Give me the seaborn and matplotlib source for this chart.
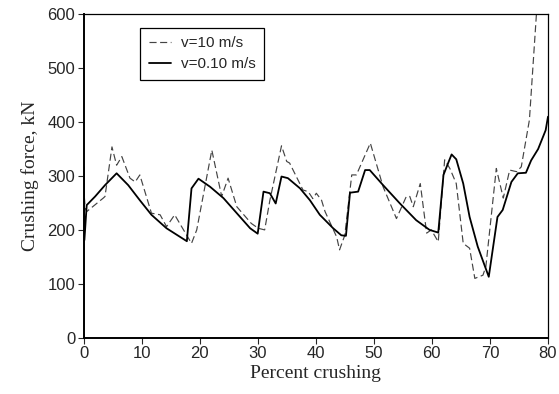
import matplotlib
matplotlib.use("Agg")
import matplotlib.pyplot as plt
import pandas as pd
import seaborn as sns

# v = 10 m/s (dashed)
pct_fast = [0.0, 0.3, 0.55, 3.4, 3.7, 4.9, 5.7, 6.6, 8.0, 8.9, 9.7, 11.7, 13.2, 14.3,
            15.7, 16.9, 18.6, 19.5, 22.1, 23.8, 24.9, 26.4, 28.9, 30.1, 31.2, 32.1,
            34.1, 35.0, 35.5, 37.8, 38.7, 39.5, 40.1, 41.0, 41.6, 43.6, 44.1, 45.0,
            46.2, 47.0, 49.4, 51.6, 53.9, 55.6, 56.2, 56.8, 58.0, 59.1, 59.9, 61.1,
            62.2, 63.1, 64.2, 65.4, 66.5, 67.4, 68.8, 69.3, 71.1, 72.3, 73.4, 74.6,
            75.4, 76.8, 78.0, 78.6]
force_fast = [280, 240, 234, 259, 262, 354, 320, 336, 296, 289, 302, 231, 228, 206,
              228, 206, 175, 200, 348, 262, 296, 243, 212, 203, 200, 255,
              356, 327, 324, 274, 271, 258, 268, 255, 234, 187, 163, 190,
              302, 302, 361, 280, 221, 262, 262, 243, 286, 194, 200, 178,
              330, 314, 286, 175, 166, 110, 116, 132, 314, 259, 311, 308,
              317, 404, 599, 700]

# v = 0.10 m/s (solid)
pct_slow = [0.0, 0.02, 0.15, 0.55, 2.0, 3.7, 5.7, 7.7, 9.7, 11.7, 14.3, 17.8, 18.6,
            19.8, 21.8, 24.1, 26.4, 28.7, 30.0, 31.0, 32.1, 33.1, 34.1, 35.2, 37.3,
            39.0, 40.7, 43.0, 44.4, 45.2, 45.9, 47.3, 48.5, 49.3, 51.6, 54.5, 57.3,
            59.6, 61.1, 62.0, 62.8, 63.4, 64.2, 65.4, 66.5, 67.9, 69.8, 71.3, 72.2,
            73.7, 74.8, 76.2, 77.1, 78.3, 79.6, 80.0]
force_slow = [0, 317, 181, 246, 262, 283, 305, 283, 255, 228, 203, 179, 277,
              295, 280, 259, 231, 203, 193, 271, 268, 249, 299, 296, 277,
              255, 228, 203, 190, 189, 269, 271, 311, 311, 283, 249, 218,
              200, 195, 302, 324, 340, 331, 286, 224, 169, 113, 224, 237,
              289, 305, 306, 329, 350, 385, 410]

labels = ["v=10 m/s", "v=0.10 m/s"]

sns.set_style("ticks")
plt.rcParams["font.family"] = ["Liberation Sans", "DejaVu Sans"]

df_fast = pd.DataFrame({"pct": pct_fast, "force": force_fast})
df_slow = pd.DataFrame({"pct": pct_slow, "force": force_slow})

fig = plt.figure(figsize=(5.59, 3.94), dpi=100)
ax = fig.add_axes([0.1494, 0.1429, 0.8309, 0.8208])

sns.lineplot(data=df_fast, x="pct", y="force", ax=ax, color="#444444", lw=0.85,
             sort=False, estimator=None, label=labels[0])
ax.lines[-1].set_dashes([6, 3])
sns.lineplot(data=df_slow, x="pct", y="force", ax=ax, color="black", lw=1.3,
             sort=False, estimator=None, label=labels[1])

ax.set_xlim(0, 80)
ax.set_ylim(0, 600)
ax.set_xticks(range(0, 81, 10))
ax.set_yticks(range(0, 601, 100))
ax.tick_params(labelsize=12, length=4, width=0.8, direction="out", pad=2)
for s in ax.spines.values():
    s.set_linewidth(0.9)
    s.set_color("black")
ax.spines["bottom"].set_linewidth(1.4)
ax.spines["left"].set_linewidth(1.4)

ax.set_xlabel("Percent crushing", family="Liberation Serif", fontsize=14, labelpad=3)
ax.set_ylabel("Crushing force, kN", family="Liberation Serif", fontsize=14, labelpad=6)

leg = ax.legend(loc="upper left", bbox_to_anchor=(0.122, 0.958), borderaxespad=0,
                fontsize=11, frameon=True, fancybox=False, edgecolor="black",
                framealpha=1, handlelength=1.5, handletextpad=0.6,
                borderpad=0.55, labelspacing=0.45)
leg.get_frame().set_linewidth(0.9)

fig.savefig("out.png", dpi=100)
